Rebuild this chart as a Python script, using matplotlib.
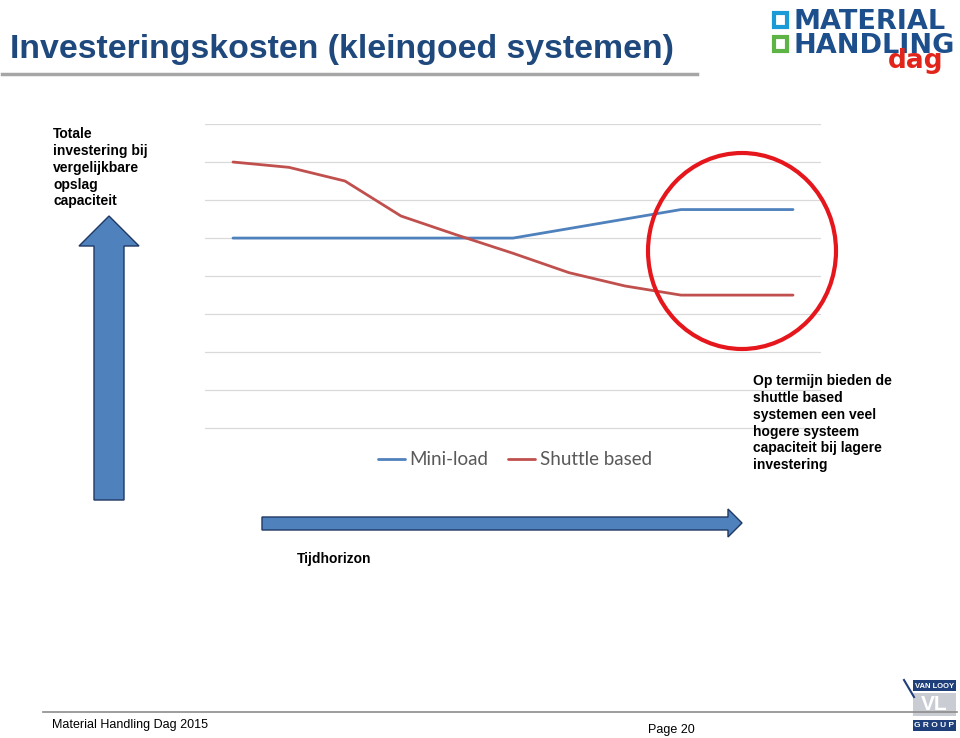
import numpy as np
import matplotlib.pyplot as plt
from matplotlib.patches import Ellipse, Polygon, Rectangle
from matplotlib.lines import Line2D

plt.rcParams['font.family'] = ['Liberation Sans', 'DejaVu Sans']

# data: 11 time steps, values in grid units (0..8)
periods = list(range(11))
mini_load = [5.0, 5.0, 5.0, 5.0, 5.0, 5.0, 5.25, 5.5, 5.75, 5.75, 5.75]
shuttle_based = [7.0, 6.86, 6.5, 5.58, 5.08, 4.6, 4.09, 3.74, 3.5, 3.5, 3.5]
series_names = ['Mini-load', 'Shuttle based']

title = 'Investeringskosten (kleingoed systemen)'
left_note = 'Totale\ninvestering bij\nvergelijkbare\nopslag\ncapaciteit'
right_note = ('Op termijn bieden de\nshuttle based\nsystemen een veel\n'
              'hogere systeem\ncapaciteit bij lagere\ninvestering')
x_note = 'Tijdhorizon'
footer_left = 'Material Handling Dag 2015'
footer_right = 'Page 20'

W, H = 960, 738


def fx(x):
    return x / W


def fy(y):
    return 1 - y / H


def pts(points):
    return [(fx(x), fy(y)) for x, y in points]


fig = plt.figure(figsize=(W / 100, H / 100), dpi=100)
fig.patch.set_facecolor('white')

# chart area (ylim a bit below 0 so the bottom gridline is not clipped)
ax = fig.add_axes([fx(205), fy(432), fx(821) - fx(205), fy(124) - fy(432)])
ax.plot(periods, mini_load, color='#4F81BD', lw=2.0, label=series_names[0],
        solid_capstyle='round')
ax.plot(periods, shuttle_based, color='#C0504D', lw=2.0, label=series_names[1],
        solid_capstyle='round')
ax.set_xlim(-0.5, 10.5)
ax.set_ylim(-0.1, 8)
ax.set_yticks(range(9))
ax.grid(axis='y', color='#d9d9d9', lw=0.9)
ax.tick_params(left=False, bottom=False, labelleft=False, labelbottom=False)
for s in ax.spines.values():
    s.set_visible(False)
ax.set_axisbelow(True)
ax.patch.set_alpha(0)

fig.legend(loc='center', bbox_to_anchor=(fx(515), fy(460)), ncol=2,
           frameon=False, prop={'family': 'Lato', 'size': 13.5},
           labelcolor='#595959', handlelength=1.4, handletextpad=0.27,
           columnspacing=1.05)

# red circle around the end of the lines
fig.add_artist(Ellipse((fx(742), fy(251)), 188 / W, 196 / H,
                       transform=fig.transFigure, fill=False,
                       edgecolor='#e5171d', lw=3))

# title and underline
fig.text(fx(10), fy(58), title, ha='left', va='baseline', fontsize=24.4,
         fontweight='bold', color='#1F497D')
fig.add_artist(Line2D([fx(2), fx(697)], [fy(74), fy(74)],
                      transform=fig.transFigure, color='#a6a6a6', lw=2.5))

# notes
fig.text(fx(53), fy(127), left_note, ha='left', va='top', fontsize=10,
         fontweight='bold', linespacing=1.26)
fig.text(fx(753), fy(374), right_note, ha='left', va='top', fontsize=10,
         fontweight='bold', linespacing=1.26)
fig.text(fx(297), fy(559), x_note, ha='left', va='center', fontsize=10,
         fontweight='bold')

# arrows
up_arrow = [(94, 500), (94, 246), (79, 246), (109, 216), (139, 246),
            (124, 246), (124, 500)]
fig.add_artist(Polygon(pts(up_arrow), closed=True, transform=fig.transFigure,
                       facecolor='#4F81BD', edgecolor='#1F3864', lw=1))
right_arrow = [(262, 517), (728, 517), (728, 509), (742, 523), (728, 537),
               (728, 530), (262, 530)]
fig.add_artist(Polygon(pts(right_arrow), closed=True, transform=fig.transFigure,
                       facecolor='#4F81BD', edgecolor='#1F3864', lw=1))

# footer
fig.add_artist(Line2D([fx(43), fx(957)], [fy(712), fy(712)],
                      transform=fig.transFigure, color='#8c8c8c', lw=1.2))
fig.text(fx(52), fy(725), footer_left, ha='left', va='center', fontsize=9)
fig.text(fx(648), fy(730), footer_right, ha='left', va='center', fontsize=9)

# logo top right (Material Handling dag)
fig.add_artist(Rectangle((fx(774), fy(27)), 13 / W, 14 / H,
                         transform=fig.transFigure, fill=False,
                         edgecolor='#1a9ad6', lw=3))
fig.add_artist(Rectangle((fx(774), fy(51)), 13 / W, 14 / H,
                         transform=fig.transFigure, fill=False,
                         edgecolor='#5db346', lw=3))
fig.text(fx(793), fy(29), 'MATERIAL', ha='left', va='baseline', fontsize=19.5,
         fontweight='bold', color='#1c4f8c', family='DejaVu Sans')
fig.text(fx(793), fy(53), 'HANDLING', ha='left', va='baseline', fontsize=19.5,
         fontweight='bold', color='#1c4f8c', family='DejaVu Sans')
fig.text(fx(888), fy(68), 'dag', ha='left', va='baseline', fontsize=19,
         fontweight='bold', color='#e1251b', family='DejaVu Sans')

# logo bottom right (Van Looy group)
fig.add_artist(Line2D([fx(904), fx(914)], [fy(680), fy(697)],
                      transform=fig.transFigure, color='#1f3f7a', lw=1.5))
fig.add_artist(Rectangle((fx(913), fy(691)), 43 / W, 11 / H,
                         transform=fig.transFigure, facecolor='#1f3f7a',
                         edgecolor='none'))
fig.text(fx(934.5), fy(686), 'VAN LOOY', ha='center', va='center', fontsize=5.5,
         color='white', fontweight='bold')
fig.add_artist(Rectangle((fx(913), fy(716)), 43 / W, 23 / H,
                         transform=fig.transFigure, facecolor='#c9ccd2',
                         edgecolor='none'))
fig.text(fx(934.5), fy(704.5), 'VL', ha='center', va='center', fontsize=15,
         color='white', fontweight='bold')
fig.add_artist(Rectangle((fx(913), fy(731)), 43 / W, 11 / H,
                         transform=fig.transFigure, facecolor='#1f3f7a',
                         edgecolor='none'))
fig.text(fx(934.5), fy(725.5), 'G R O U P', ha='center', va='center',
         fontsize=6, color='white', fontweight='bold')

fig.savefig('out.png', dpi=100)
